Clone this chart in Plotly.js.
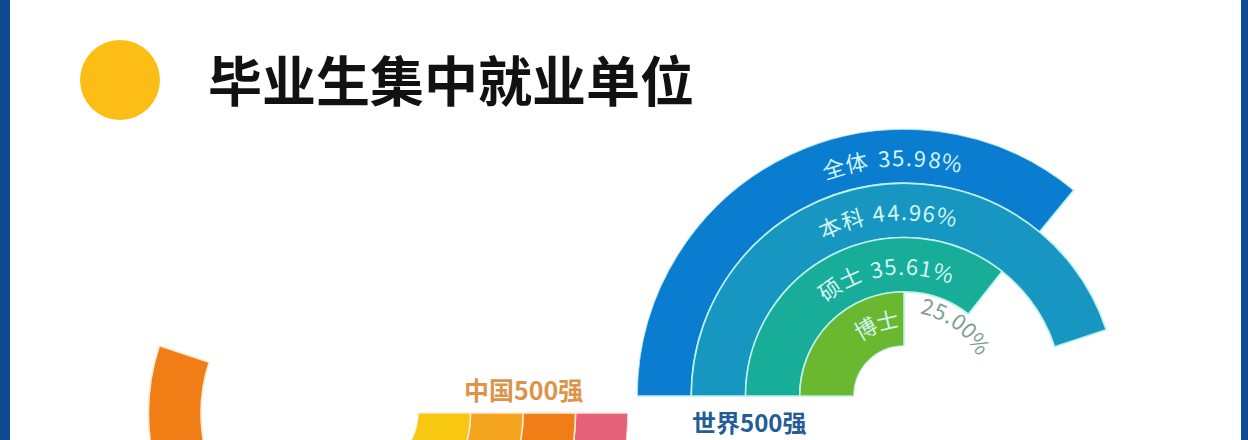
<!DOCTYPE html>
<html>
<head>
<meta charset="utf-8">
<script src="https://cdn.plot.ly/plotly-3.0.1.min.js"></script>
<style>
  html, body { margin:0; padding:0; background:#ffffff; overflow:hidden; }
  #wrap { width:1248px; height:440px; overflow:hidden; position:relative; }
  #chart { width:1248px; height:720px; }
</style>
</head>
<body>
<div id="wrap"><div id="chart"></div></div>
<script>
// ---------------- data ----------------
const titleText = '毕业生集中就业单位';
// 世界500强 (outer ring first)
const worldLabel = '世界500强';
const worldCats = ['全体', '本科', '硕士', '博士'];
const worldValues = [35.98, 44.96, 35.61, 25.00];
const worldColors = ['#0b7dd0', '#1896c2', '#18ad98', '#69b82f'];
// 中国500强 (outer ring first) - chart is mostly cut off, values estimated
const chinaLabel = '中国500强';
const chinaCats = ['全体', '本科', '硕士', '博士'];
const chinaValues = [45.0, 55.1, 40.0, 30.0];
const chinaColors = ['#e6617b', '#f07d15', '#f4a41f', '#f8c712'];

// ---------------- geometry (layout) ----------------
const W = 1248, H = 720;
const world = { cx: 904, cy: 396, R: 267, inner: 50 };
const china = { cx: 362, cy: 413, R: 266, inner: 56 };

function domainOf(g) {
  return {
    x: [(g.cx - g.R) / W, (g.cx + g.R) / W],
    y: [1 - (g.cy + g.R) / H, 1 - (g.cy - g.R) / H]
  };
}

function ringTrace(cats, values, colors, lineColor, subplot) {
  const n = values.length;
  return {
    type: 'barpolar',
    subplot: subplot,
    r: values.map(() => 1),
    base: values.map((v, i) => n - 1 - i),
    theta: values.map(v => v * 3.6 / 2),
    width: values.map(v => v * 3.6),
    text: cats,
    marker: { color: colors, line: { color: lineColor, width: 1.6 } },
    hoverinfo: 'skip',
    showlegend: false
  };
}

function polarLayout(g, rotation) {
  return {
    domain: domainOf(g),
    hole: g.inner / g.R,
    bgcolor: 'rgba(0,0,0,0)',
    barmode: 'overlay',
    radialaxis: { visible: false, range: [0, 4] },
    angularaxis: { visible: false, rotation: rotation, direction: 'clockwise' }
  };
}

// curved text: one annotation per character along an arc
function charWidth(ch, fs) {
  if (/[\u3400-\u9fff]/.test(ch)) return fs;
  if (ch === ' ') return 0.28 * fs;
  if (ch === '.') return 0.28 * fs;
  if (ch === '%') return 0.86 * fs;
  return 0.56 * fs;
}
function arcText(str, g, r, centerDeg, fs, spacing, color) {
  const chars = [...str];
  const widths = chars.map(c => charWidth(c, fs));
  const total = widths.reduce((a, b) => a + b, 0) + spacing * (chars.length - 1);
  const start = centerDeg * Math.PI / 180 + total / (2 * r);
  let cum = 0;
  const out = [];
  chars.forEach((ch, i) => {
    const th = start - (cum + widths[i] / 2) / r;
    cum += widths[i] + spacing;
    if (ch === ' ') return;
    const x = g.cx + r * Math.cos(th);
    const y = g.cy - r * Math.sin(th);
    out.push({
      xref: 'paper', yref: 'paper', x: x / W, y: 1 - y / H,
      xanchor: 'center', yanchor: 'middle', showarrow: false,
      text: ch, textangle: 90 - th * 180 / Math.PI,
      font: { family: '"Noto Sans CJK SC", "Noto Sans", sans-serif', size: fs, color: color }
    });
  });
  return out;
}

const band = (g, i, n) => {
  const w = (g.R - g.inner) / n;
  return g.R - w * (i + 0.5);
};

const onBar = '#d3f6f2';
const annotations = [];
const nW = worldValues.length;
const labelAngles = [93, 95.5, 99];
for (let i = 0; i < nW - 1; i++) {
  const txt = worldCats[i] + ' ' + worldValues[i].toFixed(2) + '%';
  annotations.push(...arcText(txt, world, band(world, i, nW), labelAngles[i], 22, 2.0, onBar));
}
// innermost ring: name inside, value outside
annotations.push(...arcText(worldCats[nW - 1], world, band(world, nW - 1, nW) + 2, 111, 22, 1, onBar));
annotations.push(...arcText(worldValues[nW - 1].toFixed(2) + '%', world, 94, 54, 22, 1.6, '#7f9d94'));

annotations.push({
  xref: 'paper', yref: 'paper', x: 749 / W, y: 1 - 421 / H, xanchor: 'center', yanchor: 'middle',
  showarrow: false, text: '<b>' + worldLabel + '</b>', borderpad: 0,
  font: { family: '"Noto Sans CJK SC", sans-serif', size: 24, color: '#245d96' }
});
annotations.push({
  xref: 'paper', yref: 'paper', x: 523 / W, y: 1 - 389 / H, xanchor: 'center', yanchor: 'middle',
  showarrow: false, text: '<b>' + chinaLabel + '</b>',
  font: { family: '"Noto Sans CJK SC", sans-serif', size: 25, color: '#dc944a' }
});

const shapes = [
  // frame borders
  { type: 'rect', xref: 'paper', yref: 'paper', x0: 0, x1: 10 / W, y0: 0, y1: 1, fillcolor: '#0f4a94', line: { width: 0 } },
  { type: 'rect', xref: 'paper', yref: 'paper', x0: 1241 / W, x1: 1, y0: 0, y1: 1, fillcolor: '#0f4a94', line: { width: 0 } },
  // yellow bullet
  { type: 'circle', xref: 'paper', yref: 'paper', x0: 80 / W, x1: 160 / W, y0: 1 - 120 / H, y1: 1 - 40 / H, fillcolor: '#fbbd16', line: { width: 0 } }
];

const data = [
  ringTrace(worldCats, worldValues, worldColors, '#bdf0ec', 'polar'),
  ringTrace(chinaCats, chinaValues, chinaColors, '#fde9cf', 'polar2')
];

const layout = {
  width: W, height: H,
  margin: { l: 0, r: 0, t: 0, b: 0 },
  paper_bgcolor: '#ffffff',
  showlegend: false,
  title: {
    text: '<b>' + titleText + '</b>',
    x: 208 / W, xanchor: 'left', xref: 'paper',
    y: 1 - 83 / H, yanchor: 'middle', yref: 'paper',
    font: { family: '"Noto Sans CJK SC", sans-serif', size: 54, color: '#111111' }
  },
  polar: polarLayout(world, 180),
  polar2: polarLayout(china, 0),
  annotations: annotations,
  shapes: shapes
};

Plotly.newPlot('chart', data, layout, { displayModeBar: false, staticPlot: true });
</script>
</body>
</html>
